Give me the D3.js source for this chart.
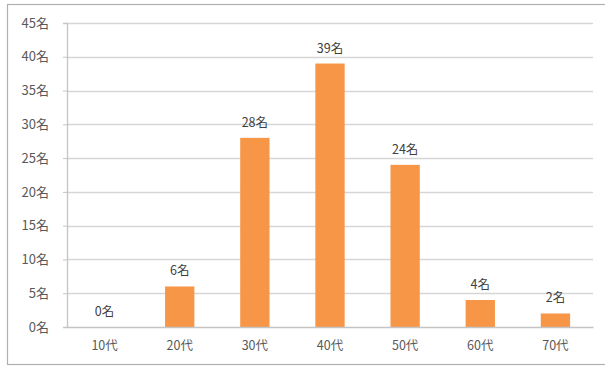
<!DOCTYPE html>
<html>
<head>
<meta charset="utf-8">
<script src="https://cdn.jsdelivr.net/npm/d3@7/dist/d3.min.js"></script>
<style>
  html, body { margin: 0; padding: 0; background: #fff; }
  svg { display: block; }
  text { font-family: "Noto Sans CJK JP", "Noto Sans", sans-serif; }
</style>
</head>
<body>
<svg id="chart" width="605" height="368"></svg>
<script>
// Age groups and respondent counts
const categories = ["10代", "20代", "30代", "40代", "50代", "60代", "70代"];
const counts = [0, 6, 28, 39, 24, 4, 2];
const yTicks = [0, 5, 10, 15, 20, 25, 30, 35, 40, 45];
const unit = "名";

const svg = d3.select("#chart");
const W = 605, H = 368;
const margin = { left: 67, right: 12, top: 23, bottom: 41 };
const plotW = W - margin.left - margin.right;
const plotH = H - margin.top - margin.bottom;

// outer chart frame
svg.append("rect")
  .attr("x", 7.5).attr("y", 4.5)
  .attr("width", 620).attr("height", 360)
  .attr("fill", "#fff")
  .attr("stroke", "#b0b0b0").attr("stroke-width", 1.2);

const g = svg.append("g").attr("transform", `translate(${margin.left},${margin.top})`);

const x = d3.scaleBand().domain(categories).range([0, plotW]).paddingInner(0.61).paddingOuter(0.305);
const y = d3.scaleLinear().domain([0, 45]).range([plotH, 0]);

// horizontal gridlines
g.append("g")
  .selectAll("line")
  .data(yTicks.filter(t => t > 0))
  .join("line")
  .attr("x1", 0).attr("x2", plotW)
  .attr("y1", d => Math.round(y(d)) + 0.5).attr("y2", d => Math.round(y(d)) + 0.5)
  .attr("stroke", "#d6d6d6").attr("stroke-width", 1.3);

// y axis
const yAxis = g.append("g")
  .call(d3.axisLeft(y).tickValues(yTicks).tickSize(4).tickPadding(6).tickFormat(d => d + unit));
yAxis.select(".domain").attr("stroke", "#c4c4c4").attr("stroke-width", 1.3);
yAxis.selectAll(".tick line").attr("stroke", "#c4c4c4");
yAxis.selectAll(".tick text")
  .attr("fill", "#595959").attr("font-size", 13)
  .attr("x", -18);

// bars
g.append("g")
  .selectAll("rect")
  .data(counts)
  .join("rect")
  .attr("x", (d, i) => x(categories[i]))
  .attr("y", d => y(d))
  .attr("width", x.bandwidth())
  .attr("height", d => y(0) - y(d))
  .attr("fill", "#F79646");

// x axis
const xAxis = g.append("g")
  .attr("transform", `translate(0,${plotH})`)
  .call(d3.axisBottom(x).tickSize(0).tickPadding(14));
xAxis.select(".domain").attr("stroke", "#c4c4c4").attr("stroke-width", 1.3);
xAxis.selectAll(".tick text").attr("fill", "#595959").attr("font-size", 12.5);

// value labels
g.append("g")
  .selectAll("text")
  .data(counts)
  .join("text")
  .attr("x", (d, i) => x(categories[i]) + x.bandwidth() / 2)
  .attr("y", d => y(d) - 11)
  .attr("text-anchor", "middle")
  .attr("font-size", 12.5)
  .attr("fill", "#404040")
  .text(d => d + unit);
</script>
</body>
</html>
